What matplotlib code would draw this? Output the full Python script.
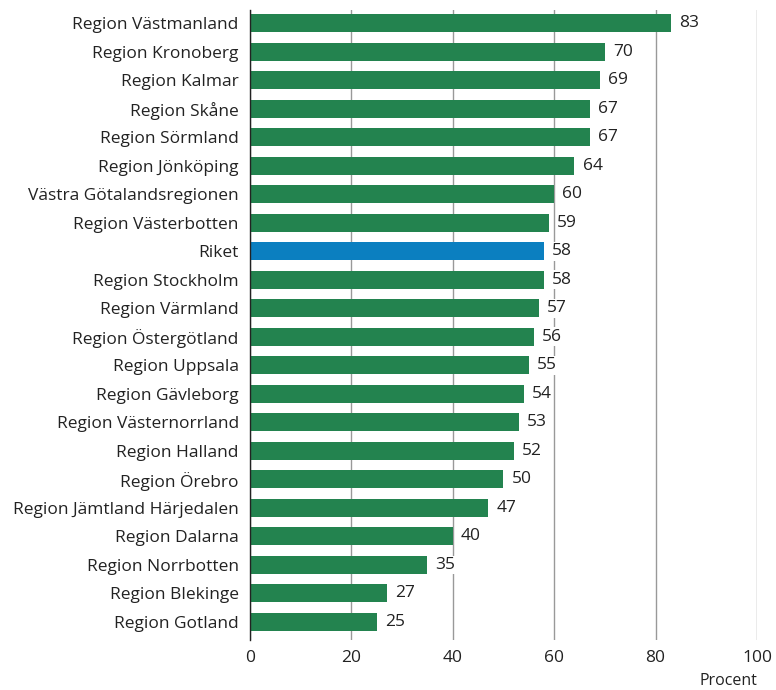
import matplotlib
matplotlib.use('Agg')
import matplotlib.pyplot as plt

regions = ['Region Västmanland', 'Region Kronoberg', 'Region Kalmar', 'Region Skåne',
           'Region Sörmland', 'Region Jönköping', 'Västra Götalandsregionen',
           'Region Västerbotten', 'Riket', 'Region Stockholm', 'Region Värmland',
           'Region Östergötland', 'Region Uppsala', 'Region Gävleborg',
           'Region Västernorrland', 'Region Halland', 'Region Örebro',
           'Region Jämtland Härjedalen', 'Region Dalarna', 'Region Norrbotten',
           'Region Blekinge', 'Region Gotland']
values = [83, 70, 69, 67, 67, 64, 60, 59, 58, 58, 57, 56, 55, 54, 53, 52, 50, 47, 40, 35, 27, 25]

GREEN = '#23834f'
BLUE = '#0b7fc0'


def main():
    plt.rcParams['font.family'] = ['Open Sans', 'DejaVu Sans']
    fig = plt.figure(figsize=(7.76, 6.9), dpi=100)
    ax = fig.add_axes([0.322, 0.0725, 0.6535, 0.913])

    colors = [BLUE if r == 'Riket' else GREEN for r in regions]
    ypos = list(range(len(regions)))
    ax.barh(ypos, values, height=0.63, color=colors, zorder=2)

    for y, v in zip(ypos, values):
        ax.text(v + 1.6, y, str(v), va='center', ha='left', fontsize=12.5, color='#222222',
                zorder=3, bbox=dict(facecolor='white', edgecolor='none', pad=1.0))

    ax.set_xlim(0, 100)
    ax.set_ylim(21.63, -0.456)
    ax.set_yticks(ypos)
    ax.set_yticklabels(regions, fontsize=12.5, color='#222222')
    ax.set_xticks([0, 20, 40, 60, 80, 100])
    ax.tick_params(axis='both', length=0, labelsize=12.5, colors='#222222')
    ax.tick_params(axis='x', pad=7)
    ax.tick_params(axis='y', pad=8)
    ax.xaxis.grid(True, color='#999999', linewidth=1, zorder=0)
    ax.set_axisbelow(True)
    for s in ['top', 'right', 'bottom']:
        ax.spines[s].set_visible(False)
    ax.spines['left'].set_color('#222222')
    ax.spines['left'].set_linewidth(1)

    fig.text(0.9755, 0.002, 'Procent', ha='right', va='bottom', fontsize=11.5, color='#222222')
    fig.savefig('out.png', dpi=100)


if __name__ == '__main__':
    main()
